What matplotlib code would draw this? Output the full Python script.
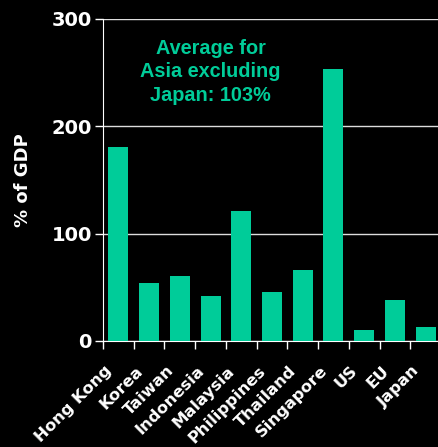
import matplotlib
matplotlib.use("Agg")
import matplotlib.pyplot as plt

categories = ["Hong Kong", "Korea", "Taiwan", "Indonesia", "Malaysia", "Philippines",
              "Thailand", "Singapore", "US", "EU", "Japan"]
values = [181, 54, 61, 42, 121, 46, 66, 253, 10, 38, 13]
yticks = [0, 100, 200, 300]

teal = "#00CC99"
fig = plt.figure(figsize=(4.38, 4.47), dpi=100, facecolor="black")
ax = fig.add_axes([103/438, (447-341)/447, (441-103)/438, (341-19)/447])
ax.set_facecolor("black")
x = list(range(len(categories)))
ax.bar(x, values, width=0.65, color=teal, zorder=3)
ax.set_xlim(-0.5, len(categories) - 0.5)
ax.set_ylim(0, 300)
ax.set_yticks(yticks)
ax.set_yticklabels([str(v) for v in yticks], fontsize=14, fontweight="bold",
                   color="white", family="DejaVu Sans")
ax.yaxis.grid(True, color="#DDDDDD", linewidth=1, zorder=0)
ax.set_xticks([i - 0.5 for i in x])
ax.set_xticklabels([])
for i, cat in zip(x, categories):
    ax.annotate(cat, xy=(i, 0), xycoords=("data", "axes fraction"),
                xytext=(-14, -22), textcoords="offset pixels",
                rotation=45, ha="right", va="top", rotation_mode="anchor",
                fontsize=11.8, fontweight="bold", color="white",
                family="DejaVu Sans", annotation_clip=False)
ax.tick_params(axis="x", length=6, color="white", width=1)
ax.tick_params(axis="y", length=6, color="white", width=1, pad=2)
for s in ["top", "right"]:
    ax.spines[s].set_visible(False)
for s in ["left", "bottom"]:
    ax.spines[s].set_color("white")
ax.set_ylabel("% of GDP", fontsize=13, fontweight="bold", color="white",
              family="DejaVu Sans", labelpad=14)
ax.text(3.0, 251, "Average for\nAsia excluding\nJapan: 103%", ha="center", va="center",
        fontsize=14.3, fontweight="bold", color=teal, family="Liberation Sans",
        linespacing=1.3, zorder=4)
fig.savefig("out.png", dpi=100, facecolor="black")
